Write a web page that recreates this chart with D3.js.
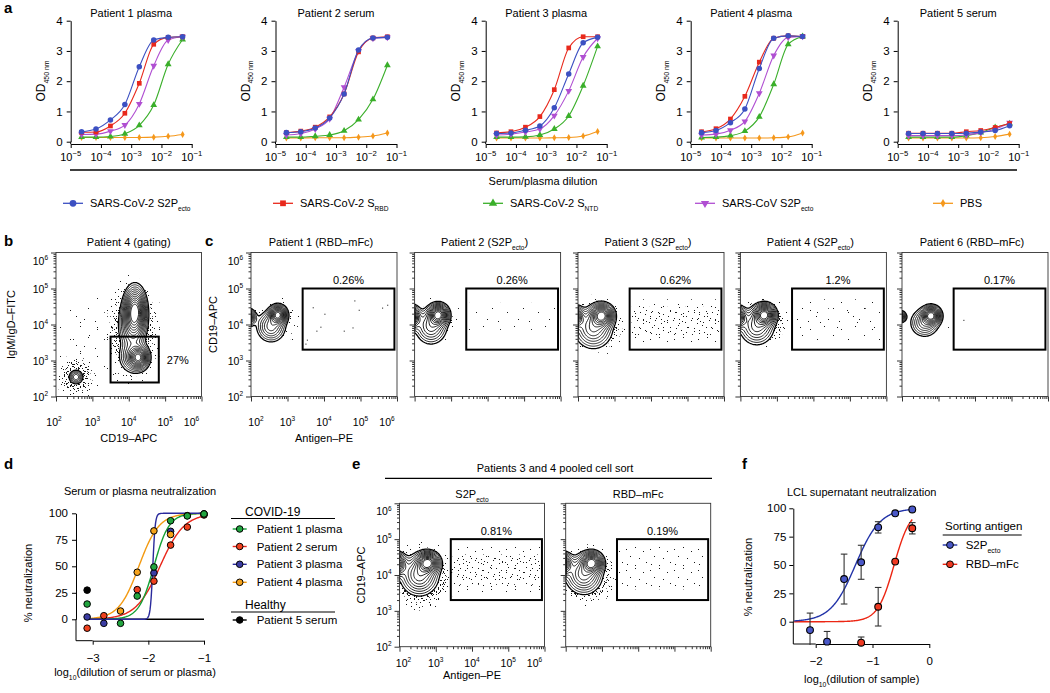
<!DOCTYPE html>
<html><head><meta charset="utf-8">
<script src="https://cdn.jsdelivr.net/npm/d3@7/dist/d3.min.js"></script>
<style>html,body{margin:0;padding:0;background:#fff}</style>
</head><body>
<svg id="fig" width="1050" height="693" xmlns="http://www.w3.org/2000/svg"></svg>
<script>
// ===================== DATA =====================
// Panel a : ELISA binding (OD450) vs serum/plasma dilution
const dilutionsA = [1/43740, 1/14580, 1/4860, 1/1620, 1/540, 1/180, 1/60, 1/20];
const samplesA = ["Patient 1 plasma","Patient 2 serum","Patient 3 plasma","Patient 4 plasma","Patient 5 serum"];
const antigenNames = ["SARS-CoV-2 S2P","SARS-CoV-2 S","SARS-CoV-2 S","SARS-CoV S2P","PBS"];
const antigenSubs = ["ecto","RBD","NTD","ecto",""];
const odS2P = [
 [0.33,0.42,0.72,1.23,2.48,3.36,3.45,3.47],
 [0.30,0.33,0.45,0.78,1.58,3.03,3.43,3.45],
 [0.27,0.29,0.38,0.52,1.12,2.24,3.27,3.45],
 [0.30,0.37,0.63,1.08,2.42,3.42,3.50,3.48],
 [0.27,0.27,0.27,0.27,0.28,0.32,0.37,0.53]];
const odRBD = [
 [0.31,0.32,0.52,0.94,1.93,3.22,3.45,3.47],
 [0.30,0.35,0.48,0.82,1.58,2.97,3.43,3.47],
 [0.29,0.33,0.48,0.83,1.72,3.10,3.47,3.47],
 [0.33,0.43,0.75,1.50,2.63,3.42,3.50,3.48],
 [0.28,0.28,0.28,0.28,0.33,0.37,0.47,0.60]];
const odNTD = [
 [0.15,0.15,0.17,0.26,0.54,1.21,2.56,3.38],
 [0.15,0.15,0.18,0.22,0.36,0.73,1.40,2.53],
 [0.15,0.15,0.16,0.22,0.42,0.85,1.85,3.15],
 [0.14,0.15,0.20,0.35,0.82,1.90,3.22,3.48],
 [0.15,0.15,0.15,0.15,0.20,0.30,0.47,0.60]];
const odSARS1 = [
 [0.24,0.25,0.35,0.55,1.25,2.51,3.36,3.47],
 [0.22,0.27,0.42,0.76,1.80,3.00,3.42,3.45],
 [0.22,0.25,0.32,0.42,0.86,1.68,2.80,3.42],
 [0.22,0.25,0.38,0.67,1.60,2.85,3.45,3.48],
 [0.20,0.20,0.20,0.20,0.22,0.30,0.42,0.63]];
const odPBS = [
 [0.14,0.14,0.14,0.14,0.14,0.15,0.18,0.24],
 [0.12,0.12,0.13,0.13,0.13,0.15,0.19,0.29],
 [0.12,0.12,0.12,0.12,0.13,0.14,0.19,0.34],
 [0.12,0.12,0.12,0.12,0.12,0.13,0.16,0.29],
 [0.12,0.12,0.12,0.12,0.12,0.13,0.17,0.25]];
const odTicks = [0,1,2,3,4];
const dilTicks = [1e-5,1e-4,1e-3,1e-2,1e-1];
const dilTickExp = ["−5","−4","−3","−2","−1"];

// Panels b, c, e : flow cytometry (log10 units)
const flowTicks = [1e2,1e3,1e4,1e5,1e6];
const flowTickExp = ["2","3","4","5","6"];
// populations: [log10 x, log10 y, sd x, sd y, relative height]
const gatingBlobs = [
 [2.55,2.54,0.10,0.10,0.3],
 [4.17,4.38,0.15,0.32,1.0],
 [4.10,3.95,0.19,0.35,0.35],
 [4.27,3.08,0.13,0.15,0.8],
 [4.15,3.10,0.21,0.23,0.3]];
const gatingGate = [3160, 67000, 245, 4600];      // x0,x1,y0,y1
const gatingGateLabel = "27%";
const cTitles = [
 [["Patient 1 (RBD–mFc)"]],
 [["Patient 2 (S2P"],["ecto","sub"],[")"]],
 [["Patient 3 (S2P"],["ecto","sub"],[")"]],
 [["Patient 4 (S2P"],["ecto","sub"],[")"]],
 [["Patient 6 (RBD–mFc)"]]];
const cGateLabels = ["0.26%","0.26%","0.62%","1.2%","0.17%"];
const cBlobs = [
 [[2.74,4.27,0.12,0.13,1],[2.55,3.95,0.20,0.22,0.35],[1.88,4.20,0.12,0.12,0.7]],
 [[2.65,4.27,0.14,0.15,1],[2.45,3.95,0.22,0.25,0.35],[1.90,4.20,0.13,0.16,0.85]],
 [[2.65,4.25,0.16,0.16,1],[2.42,3.90,0.26,0.28,0.4],[1.90,4.20,0.13,0.15,0.85]],
 [[2.66,4.27,0.15,0.15,1],[2.45,3.95,0.24,0.26,0.35],[1.90,4.20,0.13,0.15,0.85]],
 [[2.80,4.25,0.13,0.13,1],[2.62,4.05,0.20,0.20,0.3],[1.95,4.22,0.08,0.08,0.55]]];
const eTitles = [[["S2P"],["ecto","sub"]], [["RBD–mFc"]]];
const eGateLabels = ["0.81%","0.19%"];
const eBlobs = [
 [[2.78,4.34,0.16,0.15,1],[2.55,4.00,0.26,0.28,0.45],[1.90,4.30,0.14,0.16,0.85]],
 [[2.72,4.34,0.15,0.15,1],[2.50,4.02,0.25,0.27,0.45],[1.90,4.30,0.14,0.16,0.85]]];
const antigenGate = [2600, 850000, 2000, 100000];
// outlier clouds [log x, log y, radius x, radius y, density]
const gatingClouds = [[2.55,2.55,0.58,0.62,"dense"],[4.12,3.85,0.82,1.62,"dense"],[3.1,3.4,1.2,1.4,"sparse"]];
const cClouds = [
 [[2.7,4.08,0.68,0.72,"med"]],
 [[2.6,4.1,0.72,0.68,"med"]],
 [[2.5,3.98,0.9,0.85,"dense"]],
 [[2.6,4.06,0.82,0.75,"dense"]],
 [[2.7,4.15,0.65,0.55,"sparse"]]];
const eClouds = [
 [[2.6,3.95,1.0,1.05,"dense"]],
 [[2.6,4.0,0.92,0.95,"dense"]]];
// antigen-positive events inside gates: bands [log y low, log y high, density]
const cBands = [null,[3.85,4.6,"xs"],[3.5,4.7,"dense"],[3.45,4.7,"med"],null];
const eBands = [[3.5,4.8,"dense"],[3.6,4.8,"s"]];
// individually read events (log x, log y)
const c1Events = [[3.69,4.48],[4.01,4.30],[4.83,4.67],[4.95,4.41],[5.59,4.47],[5.73,4.55],[3.90,3.94],[3.79,3.83],[4.54,3.83],[4.78,3.92],[3.53,3.58],[3.49,3.47]];
const c5Events = [[3.68,4.13]];

// Panel d : serum/plasma neutralization
const neutLog = [-3.1,-2.8,-2.5,-2.2,-1.9,-1.6,-1.3,-1.0];
const neutNames = ["Patient 1 plasma","Patient 2 serum","Patient 3 plasma","Patient 4 plasma","Patient 5 serum"];
const neutP1 = [14.4,null,-3.8,21.9,49.4,93,97.5,99.4];
const neutP2 = [-8.4,3.4,null,28,36,70,87,98.4];
const neutP3 = [2.2,-3.8,null,null,43.7,83,null,99.4];
const neutP4 = [null,null,7.8,44.4,83.4,80,97.8,99.4];
const neutP5 = [27.5,null,null,null,null,null,null,null];
const neutEC50 = [-1.9,-1.79,-1.92,-2.17,null];
const neutHill = [3.2,2.0,20,2.4,null];
const neutTicksY = [0,25,50,75,100];
const neutTicksX = [-3,-2,-1];

// Panel f : LCL supernatant neutralization
const lclLog = [-2.1,-1.8,-1.5,-1.2,-0.9,-0.6,-0.3];
const lclS2P = [-7.4,-17.6,37.6,52.4,83.2,95.6,99];
const lclS2PErr = [15,9,22,15,5,1.5,1];
const lclRBD = [null,null,null,-18.5,13.2,53,82.4];
const lclRBDErr = [0,0,0,5,17,2,5];
const lclEC50 = [-1.3,-0.62];
const lclHill = [2.0,3.0];
const lclTicksX = [-2,-1,0];

// ===================== DRAWING =====================
const FONT = "'Liberation Sans', Arial, Helvetica, sans-serif";
const svg = d3.select("#fig").attr("font-family", FONT);
svg.append("rect").attr("width",1050).attr("height",693).attr("fill","#fff");
const defs = svg.append("defs");

function addText(g, x, y, parts, opts = {}) {
  const size = opts.size || 11;
  const t = g.append("text").attr("x", x).attr("y", y).attr("font-size", size)
    .attr("text-anchor", opts.anchor || "start").attr("fill", "#000");
  if (opts.rotate) t.attr("transform", `rotate(${opts.rotate},${x},${y})`);
  if (opts.weight) t.attr("font-weight", opts.weight);
  if (opts.family) t.attr("font-family", opts.family);
  let shift = 0;
  parts.forEach(p => {
    const s = Array.isArray(p) ? p[0] : p, k = Array.isArray(p) ? (p[1] || "n") : "n";
    const target = k === "sup" ? -size * 0.45 : k === "sub" ? size * 0.32 : 0;
    const ts = t.append("tspan").text(s).attr("dy", target - shift);
    if (k !== "n") ts.attr("font-size", size * (opts.small || 0.62));
    shift = target;
  });
  return t;
}
function styleAxis(g, size) {
  g.attr("font-family", FONT).attr("font-size", size);
  g.selectAll("path.domain").attr("stroke", "#000").attr("stroke-width", 1);
  g.selectAll(".tick line").attr("stroke", "#000");
  g.selectAll(".tick text").attr("fill", "#000");
}

// ---- dot textures (patterns) ----
const patternSpecs = [
  {id: "d2", w: 13, h: 12, dots: [[1,0],[5,2],[9,1],[12,4],[3,5],[7,6],[11,8],[0,9],[5,10],[9,11],[2,2],[8,4]]},
  {id: "d",  w: 12, h: 11, dots: [[0,1],[4,0],[8,2],[11,0],[2,4],[6,5],[10,5],[0,8],[4,9],[8,8],[11,10],[6,10]]},
  {id: "m",  w: 18, h: 16, dots: [[1,2],[7,0],[13,3],[16,1],[4,7],[10,8],[15,10],[2,12],[8,14],[13,15]]},
  {id: "s",  w: 24, h: 21, dots: [[2,3],[11,1],[19,5],[6,10],[15,12],[22,16],[3,18],[11,19]]},
  {id: "xs", w: 31, h: 27, dots: [[4,5],[18,2],[27,11],[11,15],[22,22],[2,24]]},
  {id: "xt", w: 37, h: 29, dots: [[6,3],[23,8],[33,20],[14,18],[2,26]]}
];
patternSpecs.forEach(p => {
  const pat = defs.append("pattern").attr("id", "pat-" + p.id).attr("patternUnits", "userSpaceOnUse")
    .attr("width", p.w).attr("height", p.h);
  p.dots.forEach(d => pat.append("rect").attr("x", d[0]).attr("y", d[1]).attr("width", 1).attr("height", 1).attr("fill", "#1a1a1a"));
});
const cloudLayers = {
  dense: [[1.0, "xs"], [0.9, "s"], [0.8, "m"], [0.7, "d"], [0.6, "d2"]],
  med: [[1.0, "xt"], [0.88, "xs"], [0.76, "s"], [0.64, "m"]],
  sparse: [[1.0, "xt"], [0.7, "xs"]]
};
const bandLayers = {
  dense: [[1.0, "s"], [0.65, "m"]],
  med: [[1.0, "xs"], [0.6, "xt"]],
  s: [[1.0, "s"]],
  xs: [[1.0, "xs"]]
};

// panel letters
[["a",4,13],["b",4,246],["c",205,246],["d",4,469],["e",352,469],["f",742,469]].forEach(l =>
  addText(svg, l[1], l[2], [l[0]], {size: 15, weight: "bold", family: "'Liberation Sans Narrow','Liberation Sans',Arial,sans-serif"}));

// ===================== Panel a =====================
const colA = {S2P: "#3c50c2", RBD: "#e8291c", NTD: "#3aaf2a", SARS1: "#b04fd2", PBS: "#f5981c"};
const aSeries = [
  {vals: odPBS, color: colA.PBS, sym: d3.symbolDiamond, size: 14, rot: 0},
  {vals: odNTD, color: colA.NTD, sym: d3.symbolTriangle, size: 20, rot: 0},
  {vals: odSARS1, color: colA.SARS1, sym: d3.symbolTriangle, size: 20, rot: 180},
  {vals: odRBD, color: colA.RBD, sym: d3.symbolSquare, size: 22, rot: 0},
  {vals: odS2P, color: colA.S2P, sym: d3.symbolCircle, size: 24, rot: 0}
];
const aLeft = [70.7, 275.5, 485.7, 690.7, 897.7];
samplesA.forEach((name, p) => {
  const L = aLeft[p];
  const x = d3.scaleLog().domain([1e-5, 1e-1]).range([L, L + 121]);
  const y = d3.scaleLinear().domain([0, 4]).range([141.7, 20.7]);
  const g = svg.append("g");
  const ya = g.append("g").attr("transform", `translate(${L},0)`)
    .call(d3.axisLeft(y).tickValues(odTicks).tickSize(4).tickSizeOuter(0).tickPadding(4).tickFormat(d3.format("d")));
  styleAxis(ya, 11.5);
  g.append("line").attr("x1", L).attr("x2", L).attr("y1", y(0)).attr("y2", 144).attr("stroke", "#000");
  const xa = g.append("g").attr("transform", `translate(0,144)`)
    .call(d3.axisBottom(x).tickValues(dilTicks).tickSize(4).tickSizeOuter(0).tickFormat(""));
  styleAxis(xa, 11);
  dilTicks.forEach((t, i) => addText(g, x(t), 161, [["10"], [dilTickExp[i], "sup"]], {anchor: "middle", size: 11, small: 0.7}));
  addText(g, L + 60.5, 16.5, [name], {anchor: "middle", size: 11});
  addText(g, L - 26, 81, [["OD"], ["450 nm", "sub"]], {anchor: "middle", size: 12, rotate: -90, small: 0.58});
  const line = d3.line().x((d, i) => x(dilutionsA[i])).y(d => y(d)).curve(d3.curveMonotoneX);
  aSeries.forEach(s => {
    const v = s.vals[p];
    g.append("path").attr("d", line(v)).attr("fill", "none").attr("stroke", s.color).attr("stroke-width", 1.1);
    g.selectAll(null).data(v).enter().append("path")
      .attr("d", d3.symbol().type(s.sym).size(s.size))
      .attr("transform", (d, i) => `translate(${x(dilutionsA[i])},${y(d)}) rotate(${s.rot})`)
      .attr("fill", s.color);
  });
});
svg.append("line").attr("x1", 70).attr("x2", 1017).attr("y1", 170).attr("y2", 170).attr("stroke", "#000").attr("stroke-width", 1.3);
addText(svg, 543, 185, ["Serum/plasma dilution"], {anchor: "middle", size: 11});
const legX = [73, 283, 493, 705, 943];
const legOrder = [4, 3, 1, 2, 0]; // index into aSeries for S2P, RBD, NTD, SARS1, PBS
antigenNames.forEach((nm, i) => {
  const s = aSeries[legOrder[i]];
  const cx = legX[i], cy = 203.3;
  svg.append("line").attr("x1", cx - 10).attr("x2", cx + 10).attr("y1", cy).attr("y2", cy).attr("stroke", s.color).attr("stroke-width", 1.3);
  svg.append("path").attr("d", d3.symbol().type(s.sym).size(s.size * 1.5)).attr("transform", `translate(${cx},${cy}) rotate(${s.rot})`).attr("fill", s.color);
  const parts = antigenSubs[i] ? [[nm], [antigenSubs[i], "sub"]] : [[nm]];
  addText(svg, cx + 17, cy + 4, parts, {size: 11, small: 0.6});
});

// ===================== Flow panels (b, c, e) =====================
const contourLevels = [0.05, 0.08, 0.12, 0.17, 0.23, 0.3, 0.38, 0.47, 0.57, 0.68, 0.8, 0.92];
let clipId = 0;
function flowPanel(cfg) {
  const {x0, y0, w, h} = cfg;
  const xs = d3.scaleLog().domain([1e2, 1e6]).range([x0, x0 + w]);
  const ys = d3.scaleLog().domain([1e2, 1e6]).range([y0 + h, y0]);
  const L = v => Math.pow(10, v);
  const g = svg.append("g");
  const cid = "clip" + (clipId++);
  defs.append("clipPath").attr("id", cid).append("rect").attr("x", x0).attr("y", y0).attr("width", w).attr("height", h);
  const inner = g.append("g").attr("clip-path", `url(#${cid})`);
  // outlier clouds (layered textures, denser towards the population)
  (cfg.clouds || []).forEach(c => {
    const cx = xs(L(c[0])), cy = ys(L(c[1]));
    const rx = xs(L(c[0] + c[2])) - cx, ry = cy - ys(L(c[1] + c[3]));
    cloudLayers[c[4]].forEach(([sc, pid]) => {
      inner.append("ellipse").attr("cx", cx).attr("cy", cy).attr("rx", rx * sc).attr("ry", ry * sc)
        .attr("fill", `url(#pat-${pid})`);
    });
  });
  // antigen-positive band inside gate
  if (cfg.band) {
    const b = cfg.band;
    const xa = xs(L(3.47)), xb = xs(L(5.9));
    const ya = ys(L(b[1])), yb = ys(L(b[0]));
    bandLayers[b[2]].forEach(([sc, pid]) => {
      const hh = (yb - ya) * sc, ww = (xb - xa);
      inner.append("rect").attr("x", xa).attr("width", ww)
        .attr("y", (ya + yb) / 2 - hh / 2).attr("height", hh)
        .attr("fill", `url(#pat-${pid})`);
    });
  }
  (cfg.events || []).forEach(e => inner.append("rect").attr("x", xs(L(e[0]))).attr("y", ys(L(e[1])))
    .attr("width", 1.1).attr("height", 1.1).attr("fill", "#333"));
  // density contours
  const nx = Math.round(w), ny = Math.round(h);
  const vals = new Float64Array(nx * ny);
  for (let j = 0; j < ny; j++) {
    const ly = Math.log10(ys.invert(y0 + j + 0.5));
    for (let i = 0; i < nx; i++) {
      const lx = Math.log10(xs.invert(x0 + i + 0.5));
      let v = 0;
      for (const bl of cfg.blobs) {
        const dx = (lx - bl[0]) / bl[2], dy = (ly - bl[1]) / bl[3];
        v += bl[4] * Math.exp(-0.5 * (dx * dx + dy * dy));
      }
      vals[j * nx + i] = v;
    }
  }
  const cs = d3.contours().size([nx, ny]).thresholds(contourLevels)(vals);
  const gp = d3.geoPath();
  const cg = inner.append("g").attr("transform", `translate(${x0},${y0})`);
  cs.forEach((c, k) => {
    const d = gp(c);
    if (!d) return;
    cg.append("path").attr("d", d).attr("fill", k === 0 ? "#fff" : "none")
      .attr("stroke", "#000").attr("stroke-width", k === 0 ? 1.3 : 0.85).attr("stroke-linejoin", "round");
  });
  // gate
  const gt = cfg.gate;
  g.append("rect").attr("x", xs(gt[0])).attr("y", ys(gt[3])).attr("width", xs(gt[1]) - xs(gt[0]))
    .attr("height", ys(gt[2]) - ys(gt[3])).attr("fill", "none").attr("stroke", "#000").attr("stroke-width", 2);
  if (cfg.gateLabelRight) {
    addText(g, xs(gt[1]) + 8, (ys(gt[2]) + ys(gt[3])) / 2 + 4, [cfg.gateLabel], {size: 11});
  } else {
    addText(g, (xs(gt[0]) + xs(gt[1])) / 2, ys(gt[3]) - 4.5, [cfg.gateLabel], {anchor: "middle", size: 11});
  }
  // frame
  g.append("rect").attr("x", x0).attr("y", y0).attr("width", w).attr("height", h)
    .attr("fill", "none").attr("stroke", "#333").attr("stroke-width", 0.9);
  // axes (major + minor ticks)
  const minors = [];
  for (let e = 2; e < 6; e++) for (let k = 2; k <= 9; k++) minors.push(k * Math.pow(10, e));
  const bx = g.append("g").attr("transform", `translate(0,${y0 + h})`);
  bx.append("g").call(d3.axisBottom(xs).tickValues(minors).tickSize(2.5).tickSizeOuter(0).tickFormat(""));
  bx.append("g").call(d3.axisBottom(xs).tickValues(flowTicks).tickSize(5).tickSizeOuter(0).tickFormat(""));
  bx.selectAll("path.domain").remove(); bx.selectAll("line").attr("stroke", "#333");
  const lx = g.append("g").attr("transform", `translate(${x0},0)`);
  lx.append("g").call(d3.axisLeft(ys).tickValues(minors).tickSize(2.5).tickSizeOuter(0).tickFormat(""));
  lx.append("g").call(d3.axisLeft(ys).tickValues(flowTicks).tickSize(5).tickSizeOuter(0).tickFormat(""));
  lx.selectAll("path.domain").remove(); lx.selectAll("line").attr("stroke", "#333");
  if (cfg.xLabels) {
    flowTicks.forEach((t, i) => {
      let px = xs(t);
      if (i === 0) px += cfg.firstShift || 0;
      if (i === 4) px -= 10;
      addText(g, px, y0 + h + cfg.tickOff, [["10"], [flowTickExp[i], "sup"]], {anchor: "middle", size: 10.5, small: 0.62});
    });
    addText(g, x0 + w / 2, y0 + h + cfg.titleOff, [cfg.xTitle], {anchor: "middle", size: 11});
  }
  if (cfg.yLabels) {
    flowTicks.forEach((t, i) => {
      let py = ys(t) + 4;
      if (i === 4) py += 8;
      addText(g, x0 - 8, py, [["10"], [flowTickExp[i], "sup"]], {anchor: "end", size: 10.5, small: 0.62});
    });
    addText(g, cfg.yTitleX, y0 + h / 2, [cfg.yTitle], {anchor: "middle", size: 11, rotate: -90});
  }
  if (cfg.title) addText(g, x0 + w / 2 + (cfg.titleShift || 0), cfg.titleY, cfg.title, {anchor: "middle", size: 11, small: 0.6});
}

// b
flowPanel({x0: 56, y0: 252.5, w: 145.5, h: 144, blobs: gatingBlobs, clouds: gatingClouds,
  gate: gatingGate, gateLabel: gatingGateLabel, gateLabelRight: true,
  xLabels: true, yLabels: true, firstShift: -2, tickOff: 29, titleOff: 45.5,
  xTitle: "CD19–APC", yTitle: "IgM/IgD–FITC", yTitleX: 15,
  title: [["Patient 4 (gating)"]], titleY: 246});
// c
const cLeft = [251, 414.6, 578, 740.4, 902];
cLeft.forEach((x0, i) => flowPanel({x0, y0: 252.5, w: 146, h: 144, blobs: cBlobs[i], clouds: cClouds[i],
  band: cBands[i], events: i === 0 ? c1Events : (i === 4 ? c5Events : []),
  gate: antigenGate, gateLabel: cGateLabels[i],
  xLabels: i === 0, yLabels: i === 0, firstShift: 5, tickOff: 29, titleOff: 45.5,
  xTitle: "Antigen–PE", yTitle: "CD19–APC", yTitleX: 217,
  title: cTitles[i], titleY: 246, titleShift: -3}));
// e
const eLeft = [399.5, 565.7];
eLeft.forEach((x0, i) => flowPanel({x0, y0: 503.3, w: 145, h: 143.4, blobs: eBlobs[i], clouds: eClouds[i],
  band: eBands[i], gate: antigenGate, gateLabel: eGateLabels[i],
  xLabels: i === 0, yLabels: i === 0, firstShift: 4, tickOff: 20.5, titleOff: 32.5,
  xTitle: "Antigen–PE", yTitle: "CD19–APC", yTitleX: 365,
  title: eTitles[i], titleY: 498}));
addText(svg, 555, 472, ["Patients 3 and 4 pooled cell sort"], {anchor: "middle", size: 11});
svg.append("line").attr("x1", 385).attr("x2", 712).attr("y1", 478.3).attr("y2", 478.3).attr("stroke", "#000").attr("stroke-width", 1.2);

// ===================== Panel d =====================
(function () {
  const g = svg.append("g");
  const x = d3.scaleLinear().domain([-3, -1]).range([92.7, 204]);
  const y = d3.scaleLinear().domain([0, 100]).range([619.3, 513.3]);
  const fill = ["#22a53f", "#f0411e", "#3b3ca3", "#f6a21a", "#000"];
  const stroke = ["#14a035", "#e9261a", "#2a2a9c", "#f39a12", "#000"];
  const ya = g.append("g").attr("transform", "translate(76,0)")
    .call(d3.axisLeft(y).tickValues(neutTicksY).tickSize(4).tickSizeOuter(0).tickPadding(4).tickFormat(d3.format("d")));
  styleAxis(ya, 11.5);
  g.append("line").attr("x1", 76).attr("x2", 76).attr("y1", y(0)).attr("y2", 640.7).attr("stroke", "#000");
  const xa = g.append("g").attr("transform", "translate(0,640.7)")
    .call(d3.axisBottom(x).tickValues(neutTicksX).tickSize(4).tickSizeOuter(0).tickPadding(9).tickFormat(d3.format("d")));
  styleAxis(xa, 11.5);
  g.append("line").attr("x1", 76).attr("x2", x(-3)).attr("y1", 640.7).attr("y2", 640.7).attr("stroke", "#000");
  addText(g, 140, 495, ["Serum or plasma neutralization"], {anchor: "middle", size: 11});
  addText(g, 135, 676, [["log"], ["10", "sub"], ["(dilution of serum or plasma)"]], {anchor: "middle", size: 11, small: 0.62});
  addText(g, 32, 583, ["% neutralization"], {anchor: "middle", size: 11, rotate: -90});
  // fits
  const grid = d3.range(0, 211).map(i => -3.1 + i * 0.01);
  const line = d3.line().x(d => x(d[0])).y(d => y(d[1]));
  g.append("path").attr("d", line([[-3.1, 0], [-1.0, 0]])).attr("stroke", "#000").attr("stroke-width", 1.5).attr("fill", "none");
  [3, 1, 0, 2].forEach(k => {
    const pts = grid.map(v => [v, 100 / (1 + Math.pow(10, (neutEC50[k] - v) * neutHill[k]))]);
    g.append("path").attr("d", line(pts)).attr("stroke", stroke[k]).attr("stroke-width", 1.4).attr("fill", "none");
  });
  const sets = [neutP1, neutP2, neutP3, neutP4, neutP5];
  [4, 2, 1, 3, 0].forEach(k => {
    sets[k].forEach((v, i) => {
      if (v === null) return;
      g.append("circle").attr("cx", x(neutLog[i])).attr("cy", y(v)).attr("r", 3.3)
        .attr("fill", fill[k]).attr("stroke", "#000").attr("stroke-width", 1);
    });
  });
  // legend
  addText(g, 245, 516, ["COVID-19"], {size: 12});
  g.append("line").attr("x1", 231).attr("x2", 335).attr("y1", 518.5).attr("y2", 518.5).attr("stroke", "#000").attr("stroke-width", 1.1);
  const ly = [529, 546.5, 564.3, 582.3];
  [0, 1, 2, 3].forEach(k => {
    g.append("line").attr("x1", 232.7).attr("x2", 246.7).attr("y1", ly[k]).attr("y2", ly[k]).attr("stroke", stroke[k]).attr("stroke-width", 1.4);
    g.append("circle").attr("cx", 239.7).attr("cy", ly[k]).attr("r", 3.3).attr("fill", fill[k]).attr("stroke", "#000");
    addText(g, 256.7, ly[k] + 4, [neutNames[k]], {size: 11.5});
  });
  addText(g, 245, 608.5, ["Healthy"], {size: 12});
  g.append("line").attr("x1", 231).attr("x2", 335).attr("y1", 612).attr("y2", 612).attr("stroke", "#000").attr("stroke-width", 1.1);
  g.append("line").attr("x1", 232.7).attr("x2", 246.7).attr("y1", 620).attr("y2", 620).attr("stroke", "#000").attr("stroke-width", 1.4);
  g.append("circle").attr("cx", 239.7).attr("cy", 620).attr("r", 3.3).attr("fill", "#000").attr("stroke", "#000");
  addText(g, 256.7, 624, [neutNames[4]], {size: 11.5});
})();

// ===================== Panel f =====================
(function () {
  const g = svg.append("g");
  const x = d3.scaleLinear().domain([-2, 0]).range([815.7, 929.3]);
  const y = d3.scaleLinear().domain([0, 100]).range([621.7, 508.3]);
  const fill = ["#4a58c8", "#ef3a22"], stroke = ["#2233a8", "#ec2613"];
  const ya = g.append("g").attr("transform", "translate(793.3,0)")
    .call(d3.axisLeft(y).tickValues(neutTicksY).tickSize(4).tickSizeOuter(0).tickPadding(3).tickFormat(d3.format("d")));
  styleAxis(ya, 11.5);
  g.append("line").attr("x1", 793.3).attr("x2", 793.3).attr("y1", y(0)).attr("y2", 644).attr("stroke", "#000");
  const xa = g.append("g").attr("transform", "translate(0,644)")
    .call(d3.axisBottom(x).tickValues(lclTicksX).tickSize(4).tickSizeOuter(0).tickPadding(8.5).tickFormat(d3.format("d")));
  styleAxis(xa, 11.5);
  g.append("line").attr("x1", 793.3).attr("x2", x(-2)).attr("y1", 644).attr("y2", 644).attr("stroke", "#000");
  addText(g, 861.7, 496, ["LCL supernatant neutralization"], {anchor: "middle", size: 11});
  addText(g, 861.7, 683, [["log"], ["10", "sub"], ["(dilution of sample)"]], {anchor: "middle", size: 11, small: 0.62});
  addText(g, 752, 577, ["% neutralization"], {anchor: "middle", size: 11, rotate: -90});
  const line = d3.line().x(d => x(d[0])).y(d => y(d[1]));
  const grid = d3.range(0, 209).map(i => -2.38 + i * 0.01);
  [1, 0].forEach(k => {
    const pts = grid.map(v => [v, 100 / (1 + Math.pow(10, (lclEC50[k] - v) * lclHill[k]))]);
    g.append("path").attr("d", line(pts)).attr("stroke", stroke[k]).attr("stroke-width", 1.4).attr("fill", "none");
  });
  const sets = [[lclS2P, lclS2PErr], [lclRBD, lclRBDErr]];
  sets.forEach(([vals, errs], k) => {
    vals.forEach((v, i) => {
      if (v === null) return;
      const cx = x(lclLog[i]);
      const lo = Math.max(v - errs[i], -20.5), hi = v + errs[i];
      if (errs[i] > 2) {
        g.append("line").attr("x1", cx).attr("x2", cx).attr("y1", y(lo)).attr("y2", y(hi)).attr("stroke", "#333").attr("stroke-width", 1.1);
        g.append("line").attr("x1", cx - 3.3).attr("x2", cx + 3.3).attr("y1", y(hi)).attr("y2", y(hi)).attr("stroke", "#333").attr("stroke-width", 1.1);
        if (v - errs[i] > -20.5)
          g.append("line").attr("x1", cx - 3.3).attr("x2", cx + 3.3).attr("y1", y(lo)).attr("y2", y(lo)).attr("stroke", "#333").attr("stroke-width", 1.1);
      }
    });
  });
  sets.forEach(([vals], k) => vals.forEach((v, i) => {
    if (v === null) return;
    g.append("circle").attr("cx", x(lclLog[i])).attr("cy", y(v)).attr("r", 3.4).attr("fill", fill[k]).attr("stroke", "#000").attr("stroke-width", 1.1);
  }));
  addText(g, 945, 530, ["Sorting antigen"], {size: 11.5});
  g.append("line").attr("x1", 942.7).attr("x2", 1021.7).attr("y1", 535).attr("y2", 535).attr("stroke", "#000").attr("stroke-width", 1.1);
  const ly = [545, 564.3];
  const labels = [[["S2P"], ["ecto", "sub"]], [["RBD–mFc"]]];
  [0, 1].forEach(k => {
    g.append("line").attr("x1", 942.7).attr("x2", 957.3).attr("y1", ly[k]).attr("y2", ly[k]).attr("stroke", stroke[k]).attr("stroke-width", 1.4);
    g.append("circle").attr("cx", 950).attr("cy", ly[k]).attr("r", 3.4).attr("fill", fill[k]).attr("stroke", "#000");
    addText(g, 965.7, ly[k] + 4, labels[k], {size: 11.5, small: 0.6});
  });
})();
</script>
</body></html>
